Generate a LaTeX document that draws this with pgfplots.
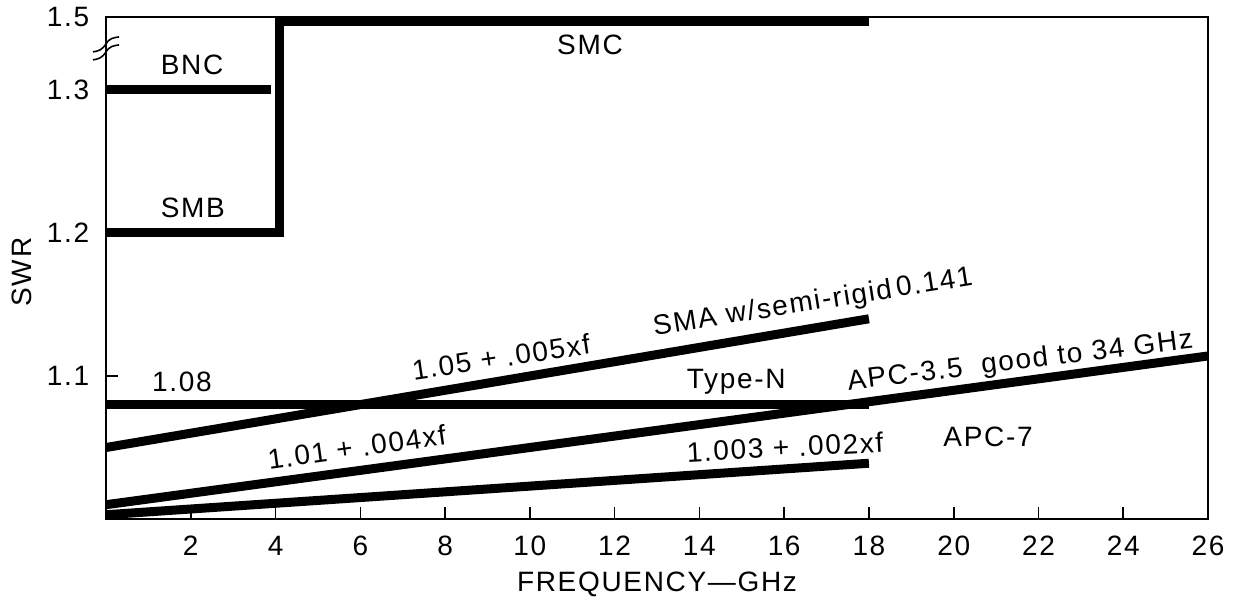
\documentclass[border=0pt]{standalone}
\usepackage{pgfplots}
\pgfplotsset{compat=1.18}
\usepackage{fontspec}
\setmainfont{Liberation Sans}[LetterSpace=6]
\begin{document}
\fontsize{14}{16.5}\selectfont
\begin{tikzpicture}
\begin{axis}[
  scale only axis, width=551pt, height=251pt,
  xmin=0, xmax=26, ymin=1.0, ymax=1.351,
  axis line style={line width=0.8pt},
  xtick={2,4,...,26},
  ytick={1.1,1.2,1.3,1.351},
  yticklabels={1.1,1.2,1.3,1.5},
  tick pos=left, tick align=inside,
  major tick length=6pt,
  tick style={line width=0.8pt, black},
  /pgf/number format/assume math mode=true,
  xticklabel style={yshift=-3.8pt},
  yticklabel style={xshift=-3.5pt},
  thk/.style={black, solid, line width=4.5pt, mark=none, line cap=butt, line join=miter},
]
% BNC
\addplot[thk] coordinates {(0,1.3) (3.9,1.3)};
% SMB -> SMC
\addplot[thk] coordinates {(0,1.2) (4.1,1.2) (4.1,1.348) (18,1.348)};
% Type-N
\addplot[thk] coordinates {(0,1.08) (18,1.08)};
% SMA w/ semi-rigid: 1.05 + .005 f
\addplot[thk] coordinates {(0,1.05) (18,1.14)};
% APC-3.5: 1.01 + .004 f
\addplot[thk] coordinates {(0,1.01) (26,1.114)};
% APC-7: 1.003 + .002 f
\addplot[thk] coordinates {(0,1.003) (18,1.039)};

\node at (axis cs:2.03,1.3175) {BNC};
\node at (axis cs:2.05,1.2175) {SMB};
\node at (axis cs:11.42,1.3315) {SMC};
\node at (axis cs:1.79,1.0958) {1.08};
\node at (axis cs:14.87,1.0958) {Type-N};
\node at (axis cs:20.81,1.0573) {APC-7};
\node[rotate=8.5] at (axis cs:9.32,1.1133) {1.05 + .005xf};
\node[rotate=9] at (axis cs:16.68,1.151) {SMA w/semi-rigid\,0.141};
\node[rotate=7] at (axis cs:21.57,1.1098) {APC-3.5\ \ good to 34 GHz};
\node[rotate=8] at (axis cs:5.92,1.0503) {1.01 + .004xf};
\node[rotate=3] at (axis cs:16.02,1.0503) {1.003 + .002xf};
\coordinate (brk) at (axis cs:0,1.3266);
\end{axis}
\foreach \dy in {0pt,4pt}{
  \draw[line width=0.8pt] ([shift={(-6.5pt,-4pt+\dy)}]brk) .. controls +(3pt,0.5pt) and +(-2pt,-3pt) .. ([shift={(0pt,0pt+\dy)}]brk) .. controls +(2pt,3pt) and +(-3pt,-0.5pt) .. ([shift={(6.5pt,3.5pt+\dy)}]brk);
}
\node[rotate=90] at ([shift={(-42pt,-2pt)}]current axis.west) {SWR};
\node[inner sep=1pt] at ([yshift=-32.5pt]current axis.south) {FREQUENCY—GHz};
\pgfresetboundingbox
\path[use as bounding box] ([shift={(-53pt,-39pt)}]current axis.south west) rectangle ([shift={(13.5pt,8.5pt)}]current axis.north east);
\end{tikzpicture}
\end{document}
